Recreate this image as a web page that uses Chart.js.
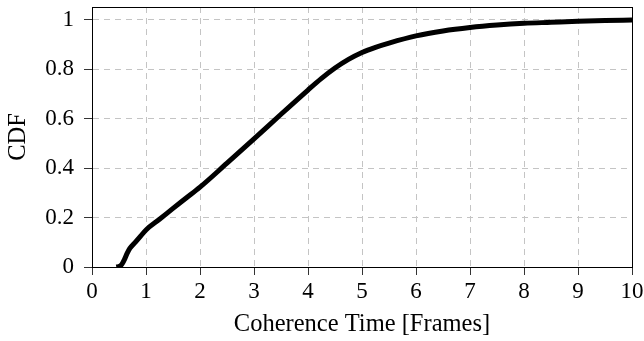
<!DOCTYPE html>
<html>
<head>
<meta charset="utf-8">
<script src="https://cdn.jsdelivr.net/npm/chart.js@4/dist/chart.umd.min.js"></script>
<style>
html,body{margin:0;padding:0;background:#fff;}
#wrap{width:644px;height:341px;}
</style>
</head>
<body>
<div id="wrap"><canvas id="c" width="644" height="341"></canvas></div>
<script>
const coherenceTime = [0.45,0.5,0.55,0.6,0.65,0.7,0.8,0.9,1.0,1.25,1.5,1.75,2.0,2.5,3.0,3.5,4.0,4.25,4.5,4.75,5.0,5.25,5.5,6.0,6.5,7.0,7.5,8.0,8.5,9.0,9.5,10.0];
const cdfValues     = [0.0,0.002,0.01,0.03,0.055,0.075,0.1,0.125,0.15,0.193,0.237,0.28,0.323,0.42,0.518,0.618,0.716,0.763,0.805,0.84,0.868,0.889,0.906,0.935,0.955,0.969,0.979,0.986,0.99,0.994,0.997,0.999];
const xTicks = [0,1,2,3,4,5,6,7,8,9,10];
const yTicks = [0,0.2,0.4,0.6,0.8,1];
const xLabel = 'Coherence Time [Frames]';
const yLabel = 'CDF';

const FONT = "'Liberation Serif', 'DejaVu Serif', serif";

const frame = {
  id:'frame',
  afterDraw(chart){
    const {ctx, chartArea:a} = chart;
    ctx.save();
    ctx.strokeStyle='#000';
    ctx.lineWidth=1;
    ctx.strokeRect(Math.round(a.left)+0.5, Math.round(a.top)+0.5, Math.round(a.right-a.left), Math.round(a.bottom-a.top));
    ctx.restore();
  }
};

new Chart(document.getElementById('c'), {
  type:'line',
  data:{
    datasets:[{
      data: coherenceTime.map((x,i)=>({x, y: cdfValues[i]})),
      borderColor:'#000',
      borderWidth:5,
      pointRadius:0,
      fill:false,
      cubicInterpolationMode:'monotone',
      borderCapStyle:'butt'
    }]
  },
  options:{
    responsive:false,
    animation:false,
    layout:{padding:{top:7,right:12,left:0,bottom:0}},
    plugins:{legend:{display:false},tooltip:{enabled:false}},
    scales:{
      x:{
        type:'linear', min:0, max:10,
        afterBuildTicks(s){ s.ticks = xTicks.map(v=>({value:v})); },
        afterFit(s){ s.height = 74; s.paddingLeft = 0; s.paddingRight = 0; },
        grid:{color:'#c4c4c4', lineWidth:1, tickColor:'#333', tickLength:8, drawOnChartArea:true},
        border:{display:true, color:'#000', width:1, dash:[6,5]},
        ticks:{color:'#000', font:{family:FONT, size:23}, padding:3, maxRotation:0, autoSkip:false},
        title:{display:true, text:xLabel, color:'#000', font:{family:FONT, size:24.5}, padding:{top:0,bottom:2}}
      },
      y:{
        type:'linear', min:0, max:1.052,
        afterBuildTicks(s){ s.ticks = yTicks.map(v=>({value:v})); },
        afterFit(s){ s.width = 92; s.paddingTop = 0; s.paddingBottom = 0; },
        grid:{color:'#c4c4c4', lineWidth:1, tickColor:'#333', tickLength:8, drawOnChartArea:true},
        border:{display:true, color:'#000', width:1, dash:[6,5]},
        ticks:{color:'#000', font:{family:FONT, size:23}, padding:10, autoSkip:false,
          callback:(v)=>String(Math.round(v*10)/10)},
        title:{display:true, text:yLabel, color:'#000', font:{family:FONT, size:24.5}, padding:{top:4,bottom:0}}
      }
    }
  },
  plugins:[frame]
});
</script>
</body>
</html>
